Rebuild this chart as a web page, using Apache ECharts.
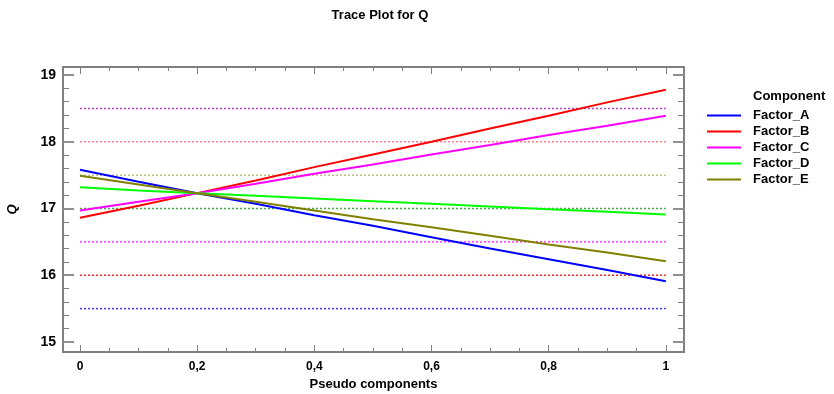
<!DOCTYPE html>
<html><head><meta charset="utf-8">
<script src="https://cdn.jsdelivr.net/npm/echarts@6/dist/echarts.min.js"></script>
<style>html,body{margin:0;padding:0;background:#fff}#c{width:834px;height:394px}</style>
</head><body><div id="c"></div>
<script>
const xs = [0, 0.1, 0.2, 0.3, 0.4, 0.5, 0.6, 0.7, 0.8, 0.9, 1];
const seriesNames = ['Factor_A','Factor_B','Factor_C','Factor_D','Factor_E'];
const factorA = [17.58, 17.40, 17.23, 17.07, 16.90, 16.74, 16.57, 16.40, 16.24, 16.08, 15.91];
const factorB = [16.86, 17.04, 17.23, 17.42, 17.62, 17.81, 18.00, 18.20, 18.39, 18.59, 18.78];
const factorC = [16.97, 17.10, 17.23, 17.37, 17.52, 17.66, 17.81, 17.95, 18.10, 18.24, 18.39];
const factorD = [17.32, 17.27, 17.23, 17.19, 17.15, 17.11, 17.07, 17.03, 16.99, 16.95, 16.91];
const factorE = [17.49, 17.36, 17.23, 17.10, 16.97, 16.84, 16.72, 16.59, 16.46, 16.34, 16.21];
const refLevels = [18.5, 18, 17.5, 17, 16.5, 16, 15.5];
const refRange = [0, 1];
const xMajorTicks = [0, 0.2, 0.4, 0.6, 0.8, 1];
const xMinorTicks = [0.05,0.1,0.15,0.25,0.3,0.35,0.45,0.5,0.55,0.65,0.7,0.75,0.85,0.9,0.95];
const yMajorTicks = [15, 16, 17, 18, 19];
const yMinorTicks = [15.2,15.4,15.6,15.8,16.2,16.4,16.6,16.8,17.2,17.4,17.6,17.8,18.2,18.4,18.6,18.8];

const colors = ['#0000ff','#ff0000','#ff00ff','#00ff00','#808000'];
const refColors = ['#b840c8','#ff7a8a','#c0c080','#40b040','#ff30ff','#ff2020','#3838ff'];
const allData = [factorA, factorB, factorC, factorD, factorE];
const font = 'Liberation Sans, Arial, sans-serif';
const fmt = v => String(+v.toFixed(2)).replace('.', ',');

const noLine = {show:false, onZero:false};
const xBase = {type:'value', min:-0.029, max:1.031, splitLine:{show:false}, axisLine:noLine};
const yBase = {type:'value', min:14.85, max:19.12, splitLine:{show:false}, axisLine:noLine};
const tickStyle = {color:'#808080', width:1};

const xAxis = [
  Object.assign({}, xBase, {position:'bottom', axisTick:{inside:true, length:7, lineStyle:tickStyle, customValues:xMajorTicks},
    axisLabel:{customValues:xMajorTicks, formatter:fmt, color:'#000', fontFamily:font, fontWeight:'bold', fontSize:12, margin:9},
    name:'Pseudo components', nameLocation:'middle', nameGap:26, nameTextStyle:{color:'#000', fontFamily:font, fontWeight:'bold', fontSize:13}}),
  Object.assign({}, xBase, {position:'bottom', axisTick:{inside:true, length:4, lineStyle:tickStyle, customValues:xMinorTicks}, axisLabel:{show:false}}),
  Object.assign({}, xBase, {position:'top', axisTick:{inside:true, length:7, lineStyle:tickStyle, customValues:xMajorTicks}, axisLabel:{show:false}}),
  Object.assign({}, xBase, {position:'top', axisTick:{inside:true, length:4, lineStyle:tickStyle, customValues:xMinorTicks}, axisLabel:{show:false}})
];
const yAxis = [
  Object.assign({}, yBase, {position:'left', axisTick:{inside:true, length:11, lineStyle:{color:'#909090', width:2}, customValues:yMajorTicks},
    axisLabel:{customValues:yMajorTicks, color:'#000', fontFamily:font, fontWeight:'bold', fontSize:14, margin:7},
    name:'Q', nameLocation:'middle', nameGap:44, nameRotate:90, nameTextStyle:{color:'#000', fontFamily:font, fontWeight:'bold', fontStyle:'italic', fontSize:13}}),
  Object.assign({}, yBase, {position:'left', axisTick:{inside:true, length:6, lineStyle:tickStyle, customValues:yMinorTicks}, axisLabel:{show:false}}),
  Object.assign({}, yBase, {position:'right', axisTick:{inside:true, length:11, lineStyle:{color:'#909090', width:2}, customValues:yMajorTicks}, axisLabel:{show:false}}),
  Object.assign({}, yBase, {position:'right', axisTick:{inside:true, length:6, lineStyle:tickStyle, customValues:yMinorTicks}, axisLabel:{show:false}})
];

const series = [];
refLevels.forEach((y, i) => series.push({
  type:'line', xAxisIndex:0, yAxisIndex:0, symbol:'none', silent:true, z:2,
  data: refRange.map(x => [x, y]),
  lineStyle:{color:refColors[i], width:1.5, type:[2,2]}
}));
seriesNames.forEach((n, i) => series.push({
  name:n, type:'line', xAxisIndex:0, yAxisIndex:0, symbol:'none', z:5,
  data: xs.map((x, j) => [x, allData[i][j]]),
  lineStyle:{color:colors[i], width:2}, itemStyle:{color:colors[i]}
}));

const chart = echarts.init(document.getElementById('c'), null, {renderer:'canvas'});
chart.setOption({
  animation:false,
  backgroundColor:'#fff',
  title:{text:'Trace Plot for Q', left:375, top:4, textAlign:'center',
    textStyle:{fontFamily:font, fontSize:13, fontWeight:'bold', color:'#000'}},
  grid:{left:63, right:150, top:67, bottom:42, containLabel:false, outerBoundsMode:'none', show:true, borderColor:'#808080', borderWidth:2, backgroundColor:'transparent'},
  legend:{orient:'vertical', left:707, top:109, padding:0, itemWidth:34, itemHeight:14, itemGap:3,
    data:seriesNames.map((n,i)=>({name:n, icon:'path://M0,6L34,6L34,8L0,8Z', itemStyle:{color:colors[i]}})),
    textStyle:{fontFamily:font, fontWeight:'bold', fontSize:13, color:'#000', padding:[0,0,0,7]}},
  graphic:[{type:'text', left:753, top:90, style:{text:'Component', fontFamily:font, fontWeight:'bold', fontSize:13, fill:'#000'}}],
  xAxis:xAxis, yAxis:yAxis, series:series
});
</script></body></html>
